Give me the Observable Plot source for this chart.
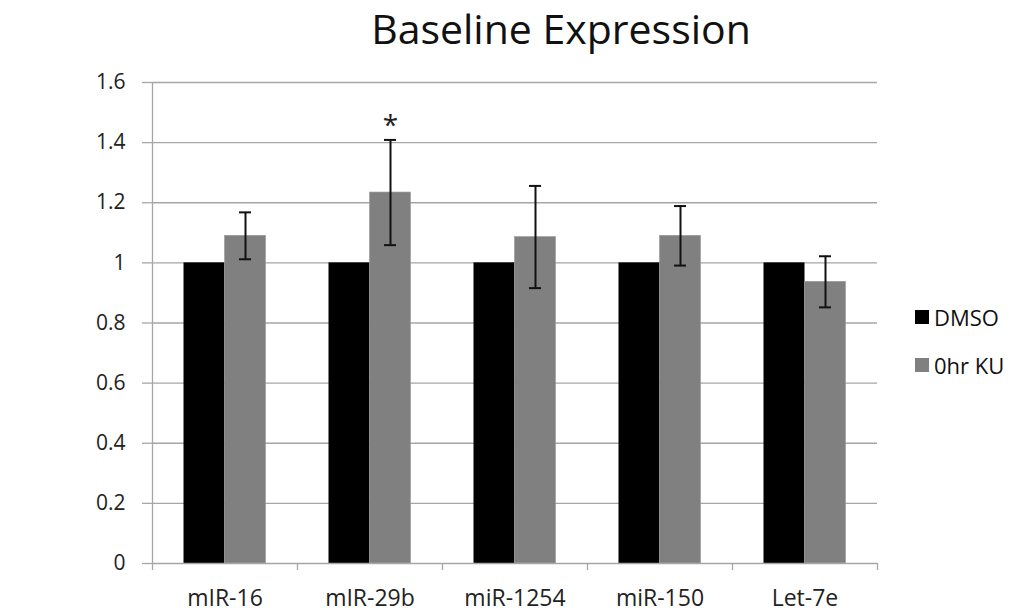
<!DOCTYPE html>
<html>
<head>
<meta charset="utf-8">
<script src="https://cdn.jsdelivr.net/npm/d3@7"></script>
<script src="https://cdn.jsdelivr.net/npm/@observablehq/plot@0.6"></script>
<style>
  html, body { margin: 0; padding: 0; background: #fff; }
  #wrap { position: relative; width: 1010px; height: 612px; font-family: "Open Sans", sans-serif; }
  #title { position: absolute; left: 0; width: 1010px; top: 0px; text-align: center; padding-left: 112px; box-sizing: border-box; font-size: 41px; color: #111; }
  #chart { position: absolute; left: 0; top: 60px; }
  #ylabel { position: absolute; left: 32px; top: 322px; transform: translate(-50%, -50%) rotate(-90deg); white-space: nowrap; font-size: 27px; color: #111; }
  .leg { position: absolute; left: 915px; font-size: 22px; color: #111; display: flex; align-items: center; }
  .leg span.sw { display: inline-block; width: 14px; height: 14px; margin-right: 5px; }
</style>
</head>
<body>
<div id="wrap">
  <div id="title">Baseline Expression</div>
  <div id="ylabel">Normalized miRNA expression</div>
  <div id="chart"></div>
  <div class="leg" style="top:302px"><span class="sw" style="background:#000"></span>DMSO</div>
  <div class="leg" style="top:350px"><span class="sw" style="background:#808080"></span>0hr KU</div>
</div>
<script>
const categories = ["mIR-16", "mIR-29b", "miR-1254", "miR-150", "Let-7e"];
const dmso = [1, 1, 1, 1, 1];
const ku = [1.09, 1.234, 1.086, 1.09, 0.937];
const kuErr = [0.078, 0.175, 0.17, 0.099, 0.085];
const significant = [false, true, false, false, false];
const yTicks = [0, 0.2, 0.4, 0.6, 0.8, 1.0, 1.2, 1.4, 1.6];

const W = 1010, H = 552;
const mL = 152, mR = 133, mT = 22, mB = 49;
const bw = (W - mL - mR) / categories.length;
const barW = 41;

const rows = categories.map((c, i) => ({cat: c, dmso: dmso[i], ku: ku[i], lo: ku[i] - kuErr[i], hi: ku[i] + kuErr[i], sig: significant[i]}));

const plot = Plot.plot({
  width: W, height: H,
  marginLeft: mL, marginRight: mR, marginTop: mT, marginBottom: mB,
  style: {fontFamily: "Open Sans, sans-serif", fontSize: "21px", color: "#222", background: "white"},
  x: {domain: categories, padding: 0, label: null},
  y: {domain: [0, 1.6], label: null},
  marks: [
    Plot.ruleY(yTicks.filter(d => d > 0), {stroke: "#a6a6a6", strokeWidth: 1.3}),
    Plot.barY(rows, {x: "cat", y: "dmso", fill: "#000", insetLeft: bw / 2 - barW, insetRight: bw / 2}),
    Plot.barY(rows, {x: "cat", y: "ku", fill: "#808080", stroke: "#9a9a9a", strokeWidth: 0.6, insetLeft: bw / 2, insetRight: bw / 2 - barW}),
    Plot.ruleX(rows, {x: "cat", y1: "lo", y2: "hi", dx: barW / 2, stroke: "#111", strokeWidth: 2}),
    Plot.tickY(rows, {x: "cat", y: "lo", dx: barW / 2, insetLeft: bw / 2 - 6, insetRight: bw / 2 - 6, stroke: "#111", strokeWidth: 2}),
    Plot.tickY(rows, {x: "cat", y: "hi", dx: barW / 2, insetLeft: bw / 2 - 6, insetRight: bw / 2 - 6, stroke: "#111", strokeWidth: 2}),
    Plot.text(rows.filter(d => d.sig), {x: "cat", y: "hi", text: () => "*", dx: barW / 2, dy: -14, fontSize: 28, fill: "#222"}),
    Plot.ruleY([0], {stroke: "#a6a6a6", strokeWidth: 1.3}),
    Plot.ruleX(categories, {x: d => d, dx: -bw / 2, y1: 0, y2: 0, insetBottom: -7, stroke: "#a6a6a6", strokeWidth: 1.3}),
    Plot.ruleX([categories[categories.length - 1]], {x: d => d, dx: bw / 2, y1: 0, y2: 0, insetBottom: -7, stroke: "#a6a6a6", strokeWidth: 1.3}),
    Plot.axisY({ticks: yTicks, tickFormat: d3.format("~g"), tickSize: 10, tickPadding: 17, stroke: "#a6a6a6", strokeWidth: 1.3, fill: "#222", fontSize: 21, label: null}),
    Plot.ruleX([0], {x: () => categories[0], dx: -bw / 2, y1: 0, y2: 1.6, stroke: "#a6a6a6", strokeWidth: 1.3}),
    Plot.axisX({tickSize: 0, tickPadding: 26, fontSize: 23, fill: "#222", label: null})
  ]
});
document.getElementById("chart").appendChild(plot);
</script>
</body>
</html>
